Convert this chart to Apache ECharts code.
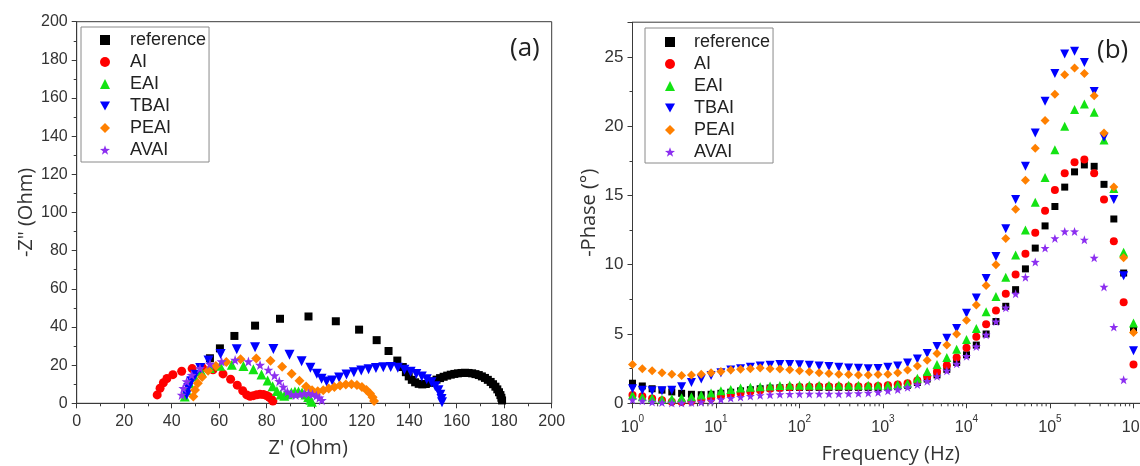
<!DOCTYPE html>
<html>
<head>
<meta charset="utf-8">
<script src="https://cdn.jsdelivr.net/npm/echarts@6/dist/echarts.min.js"></script>
<style>
  html, body { margin: 0; padding: 0; background: #ffffff; }
  #chart { width: 1140px; height: 466px; }
</style>
</head>
<body>
<div id="chart"></div>
<script>
// Sample names, in legend order
const sampleNames = ['reference', 'AI', 'EAI', 'TBAI', 'PEAI', 'AVAI'];

// Nyquist plot (a): [Z' (Ohm), -Z'' (Ohm)]
const nyqReference = [[56.1,23.6],[60.3,28.8],[66.4,35.3],[75.1,40.7],[85.6,44.3],[97.6,45.5],[109.1,43.0],[118.9,38.6],[126.3,33.1],[131.3,27.4],[135.0,22.4],[137.3,19.0],[138.6,16.3],[139.8,14.1],[141.1,12.3],[142.5,11.0],[144.0,10.2],[145.5,9.9],[147.0,10.1],[148.5,10.7],[150.0,11.5],[151.5,12.4],[153.0,13.2],[154.5,13.9],[156.0,14.5],[157.5,15.0],[159.0,15.4],[160.5,15.7],[162.0,15.9],[163.5,16.0],[165.0,15.9],[166.5,15.7],[167.9,15.3],[169.3,14.8],[170.6,14.1],[171.9,13.3],[173.1,12.3],[174.3,11.2],[175.3,10.0],[176.3,8.7],[177.1,7.3],[177.8,5.8],[178.4,4.3],[178.8,2.9],[179.1,1.5]];
const nyqAI = [[33.9,4.4],[35.1,7.9],[36.5,10.8],[38.0,13.0],[40.5,15.0],[44.2,16.8],[48.6,18.2],[53.0,18.6],[57.4,17.6],[61.6,15.4],[64.8,12.6],[67.6,9.5],[69.9,6.6],[71.6,4.4],[73.0,3.7],[74.4,4.0],[75.8,4.5],[77.2,4.7],[78.6,4.6],[79.9,4.1],[81.0,3.3],[81.9,2.3],[82.6,1.2]];
const nyqEAI = [[45.5,3.5],[46.2,7.0],[47.5,10.5],[49.6,14.0],[52.5,16.7],[56.1,18.5],[60.4,19.7],[65.3,20.2],[70.2,19.6],[74.4,17.9],[77.8,15.1],[80.4,11.9],[82.5,9.0],[84.3,6.5],[85.9,4.6],[87.4,4.0],[88.9,4.8],[90.4,5.7],[91.9,6.2],[93.4,6.2],[94.9,5.6],[96.3,4.6],[97.5,3.3],[98.4,1.9],[99.0,0.8]];
const nyqTBAI = [[46.3,4.5],[47.0,8.0],[48.3,11.5],[49.9,15.0],[52.0,18.5],[55.5,22.4],[60.6,25.8],[67.4,28.3],[75.1,29.4],[82.8,28.4],[89.6,25.4],[94.7,22.0],[98.4,18.6],[101.1,15.5],[103.1,12.9],[105.2,11.4],[107.6,11.9],[110.5,13.5],[113.6,15.1],[116.7,16.3],[119.8,17.2],[122.9,17.9],[126.0,18.5],[129.1,18.9],[132.2,19.0],[135.2,18.6],[138.0,17.6],[140.6,16.5],[143.0,15.3],[145.3,14.0],[147.4,12.6],[149.4,11.0],[151.0,9.0],[152.3,6.8],[153.1,4.5],[153.6,2.3],[153.8,0.6]];
const nyqPEAI = [[49.1,3.5],[49.8,7.0],[51.0,10.5],[52.8,13.8],[55.3,17.0],[58.6,19.6],[63.0,21.6],[69.0,23.1],[75.6,23.5],[81.6,22.3],[86.5,19.2],[90.5,15.5],[93.8,11.8],[96.6,8.8],[99.1,6.8],[101.5,6.3],[103.8,6.9],[106.1,7.7],[108.5,8.6],[110.9,9.3],[113.3,9.8],[115.7,10.0],[118.0,9.6],[120.1,8.6],[122.0,7.0],[123.5,5.2],[124.6,3.2],[125.2,1.2]];
const nyqAVAI = [[44.2,4.4],[44.9,7.9],[46.3,11.4],[48.4,14.8],[51.9,18.3],[56.1,20.6],[61.0,21.9],[66.7,22.7],[72.3,21.9],[77.2,20.1],[80.7,17.5],[83.3,14.6],[85.3,11.6],[87.0,8.6],[88.7,6.0],[90.4,4.6],[92.2,4.3],[94.0,4.7],[95.8,5.1],[97.6,5.2],[99.3,4.8],[100.9,4.0],[102.2,2.9],[103.2,1.6]];

// Bode phase plot (b): measurement frequencies (Hz)
const frequencies = [1, 1.311, 1.719, 2.254, 2.955, 3.874, 5.08, 6.66, 8.73, 11.45, 15.01, 19.68, 25.8, 33.8, 44.4, 58.2, 76.3, 100, 131.1, 171.9, 225.4, 295.5, 387.4, 508, 666, 873, 1145, 1501, 1968, 2580, 3382, 4435, 5815, 7624, 10000, 13110, 17190, 22540, 29550, 38740, 50800, 66600, 87300, 114500, 150100, 196800, 258000, 338200, 443500, 581500, 762400, 1000000];
// -Phase (deg) at each frequency
const phaseReference = [1.45,1.25,1.05,0.95,0.82,0.72,0.65,0.62,0.65,0.72,0.8,0.9,0.98,1.05,1.1,1.12,1.14,1.15,1.15,1.15,1.15,1.15,1.15,1.15,1.15,1.15,1.15,1.2,1.3,1.5,1.75,2.05,2.45,2.95,3.5,4.2,5.0,5.9,7.0,8.2,9.7,11.2,12.8,14.2,15.6,16.7,17.2,17.1,15.8,13.3,9.4,5.3];
const phaseAI = [0.6,0.5,0.35,0.22,0.12,0.1,0.15,0.25,0.35,0.5,0.62,0.75,0.85,0.95,1.05,1.1,1.15,1.18,1.2,1.22,1.22,1.22,1.22,1.22,1.23,1.25,1.3,1.35,1.45,1.65,1.95,2.3,2.75,3.3,4.0,4.8,5.7,6.7,7.9,9.3,10.8,12.3,13.9,15.4,16.6,17.4,17.6,16.6,14.7,11.7,7.3,2.8];
const phaseEAI = [0.6,0.48,0.38,0.3,0.33,0.4,0.48,0.6,0.75,0.9,1.0,1.1,1.15,1.2,1.25,1.28,1.3,1.3,1.3,1.3,1.3,1.3,1.3,1.3,1.3,1.3,1.3,1.35,1.45,1.8,2.3,2.8,3.3,3.9,4.6,5.4,6.6,7.7,9.1,10.7,12.5,14.5,16.3,18.3,20.0,21.2,21.6,21.0,19.0,15.5,10.9,5.8];
const phaseTBAI = [1.05,0.95,0.9,0.9,0.95,1.2,1.5,1.75,2.0,2.2,2.4,2.5,2.6,2.7,2.75,2.8,2.8,2.78,2.75,2.7,2.65,2.6,2.55,2.53,2.5,2.52,2.6,2.7,2.9,3.2,3.6,4.1,4.7,5.4,6.5,7.6,9.0,10.6,12.6,14.7,17.1,19.5,21.8,23.8,25.2,25.4,24.6,22.5,19.2,14.7,9.2,3.8];
const phasePEAI = [2.8,2.5,2.35,2.2,2.1,2.0,2.05,2.1,2.2,2.3,2.4,2.45,2.5,2.55,2.5,2.48,2.42,2.35,2.28,2.2,2.15,2.1,2.08,2.05,2.05,2.08,2.1,2.2,2.4,2.7,3.1,3.6,4.2,5.0,6.0,7.1,8.5,10.0,11.9,14.0,16.1,18.4,20.4,22.3,23.7,24.2,23.8,22.2,19.5,15.6,10.5,5.1];
const phaseAVAI = [0.25,0.18,0.1,0.05,0.03,0.03,0.05,0.1,0.18,0.28,0.38,0.45,0.52,0.58,0.62,0.65,0.67,0.68,0.68,0.68,0.68,0.68,0.7,0.72,0.75,0.8,0.9,1.0,1.15,1.35,1.6,1.95,2.35,2.85,3.4,4.1,4.95,5.9,6.9,7.9,9.1,10.2,11.2,11.9,12.4,12.4,11.8,10.5,8.4,5.5,1.7,null];

// Tick labels
const zTickLabels = ['0','20','40','60','80','100','120','140','160','180','200'];
const phaseTickLabels = ['0','5','10','15','20','25'];
const decadeExponents = [0, 1, 2, 3, 4, 5, 6];

// Marker appearance per sample
const markerColors = ['#000000', '#ff0000', '#13e313', '#0000ff', '#ff8000', '#8c2ff0'];
const starPath = 'path://M0,-10L2.35,-3.24L9.51,-3.09L3.8,1.24L5.88,8.09L0,4L-5.88,8.09L-3.8,1.24L-9.51,-3.09L-2.35,-3.24Z';
const downTrianglePath = 'path://M0,0L10,0L5,9Z';
const markerSymbols = ['rect', 'circle', 'triangle', downTrianglePath, 'diamond', starPath];
const markerSizes = [8, 9, 10, 10, 10, 10];

const nyquistSets = [nyqReference, nyqAI, nyqEAI, nyqTBAI, nyqPEAI, nyqAVAI];
const phaseSets = [phaseReference, phaseAI, phaseEAI, phaseTBAI, phasePEAI, phaseAVAI];

const tickFont = 'Liberation Sans, Arial, sans-serif';
const titleFont = 'Open Sans, Liberation Sans, sans-serif';
const axisColor = '#3a3a3a';

// minor tick positions for the log frequency axis (2..9 within each decade)
const logMinorTicks = [];
decadeExponents.forEach(function (e) {
  for (let k = 2; k <= 9; k++) logMinorTicks.push([k * Math.pow(10, e), 0]);
});

const chart = echarts.init(document.getElementById('chart'), null, { renderer: 'canvas' });

function baseAxisStyle() {
  return {
    axisLine: { show: true, lineStyle: { color: axisColor, width: 1 } },
    axisTick: { show: true, inside: false, length: 5, lineStyle: { color: axisColor } },
    minorTick: { show: true, splitNumber: 2, length: 3, lineStyle: { color: axisColor } },
    splitLine: { show: false },
    minorSplitLine: { show: false }
  };
}

const series = [];
sampleNames.forEach(function (name, k) {
  series.push({
    name: name,
    type: 'scatter',
    xAxisIndex: 0,
    yAxisIndex: 0,
    data: nyquistSets[k],
    symbol: markerSymbols[k],
    symbolSize: markerSizes[k],
    itemStyle: { color: markerColors[k], opacity: 1 },
    emphasis: { disabled: true }
  });
});
sampleNames.forEach(function (name, k) {
  const pts = [];
  phaseSets[k].forEach(function (v, i) {
    if (v !== null) pts.push([frequencies[i], v]);
  });
  series.push({
    name: name,
    type: 'scatter',
    xAxisIndex: 1,
    yAxisIndex: 1,
    data: pts,
    symbol: markerSymbols[k],
    symbolSize: markerSizes[k] - 1,
    itemStyle: { color: markerColors[k], opacity: 1 },
    emphasis: { disabled: true }
  });
});
// minor ticks of the logarithmic frequency axis
series.push({
  type: 'custom',
  xAxisIndex: 1,
  yAxisIndex: 1,
  silent: true,
  clip: false,
  data: logMinorTicks,
  renderItem: function (params, api) {
    const p = api.coord([api.value(0), 0]);
    return {
      type: 'line',
      shape: { x1: p[0], y1: p[1], x2: p[0], y2: p[1] + 3 },
      style: { stroke: axisColor, lineWidth: 1 }
    };
  }
});

const legendCommon = {
  data: sampleNames,
  orient: 'vertical',
  itemWidth: 10,
  itemHeight: 10,
  itemGap: 4,
  borderColor: '#8a8a8a',
  borderWidth: 1,
  backgroundColor: '#ffffff',
  selectedMode: false
};

const titleStyle = { fontFamily: titleFont, fontSize: 20, color: '#333' };

const option = {
  animation: false,
  backgroundColor: '#ffffff',
  grid: [
    { left: 76.7, top: 21.7, right: 588.3, bottom: 62.7, outerBoundsMode: 'none', containLabel: false, show: true, borderColor: axisColor, borderWidth: 1, backgroundColor: 'transparent' },
    { left: 632.5, top: 22.2, right: -3, bottom: 62.7, outerBoundsMode: 'none', containLabel: false, show: true, borderColor: axisColor, borderWidth: 1, backgroundColor: 'transparent' }
  ],
  xAxis: [
    Object.assign(baseAxisStyle(), {
      type: 'value', gridIndex: 0, min: 0, max: 200, interval: 20,
      name: "Z' (Ohm)", nameLocation: 'middle', nameGap: 35,
      nameTextStyle: Object.assign({}, titleStyle, { padding: [0, 12, 0, 0] }),
      axisLabel: {
        margin: 10, fontFamily: tickFont, fontSize: 16, color: '#333',
        formatter: function (v) { return zTickLabels[Math.round(v / 20)] || ''; }
      }
    }),
    Object.assign(baseAxisStyle(), {
      type: 'log', logBase: 10, gridIndex: 1, min: 1, max: 1300000,
      name: 'Frequency (Hz)', nameLocation: 'middle', nameGap: 41,
      nameTextStyle: Object.assign({}, titleStyle, { padding: [0, 0, 0, 6] }),
      minorTick: { show: false },
      axisLabel: {
        margin: 11, fontFamily: tickFont, fontSize: 16, color: '#333',
        showMaxLabel: false,
        formatter: function (v) {
          const n = Math.log10(v);
          const r = Math.round(n);
          if (Math.abs(n - r) > 1e-6 || decadeExponents.indexOf(r) < 0) return '';
          return '{b|10}{s|' + r + '}';
        },
        rich: {
          b: { fontFamily: tickFont, fontSize: 16, color: '#333', verticalAlign: 'bottom' },
          s: { fontFamily: tickFont, fontSize: 10, color: '#333', verticalAlign: 'bottom', padding: [0, 0, 11, 0] }
        }
      }
    })
  ],
  yAxis: [
    Object.assign(baseAxisStyle(), {
      type: 'value', gridIndex: 0, min: 0, max: 200, interval: 20,
      name: '-Z" (Ohm)', nameLocation: 'middle', nameGap: 40, nameRotate: 90,
      nameTextStyle: titleStyle,
      axisLabel: {
        margin: 9, fontFamily: tickFont, fontSize: 16, color: '#333',
        formatter: function (v) { return zTickLabels[Math.round(v / 20)] || ''; }
      }
    }),
    Object.assign(baseAxisStyle(), {
      type: 'value', gridIndex: 1, min: 0, max: 27.5, interval: 5,
      name: '-Phase (°)', nameLocation: 'middle', nameGap: 33, nameRotate: 90,
      nameTextStyle: titleStyle,
      axisLabel: {
        margin: 9, fontFamily: tickFont, fontSize: 17, color: '#333',
        showMaxLabel: false,
        formatter: function (v) {
          const r = Math.round(v / 5);
          return (Math.abs(v - r * 5) < 1e-6) ? (phaseTickLabels[r] || '') : '';
        }
      }
    })
  ],
  legend: [
    Object.assign({}, legendCommon, {
      left: 81, top: 27, padding: [4, 3, 3, 19],
      textStyle: { fontFamily: tickFont, fontSize: 18, color: '#222', lineHeight: 18, padding: [0, 0, 0, 15] }
    }),
    Object.assign({}, legendCommon, {
      left: 645, top: 28, padding: [5, 3, 2, 20],
      textStyle: { fontFamily: tickFont, fontSize: 18, color: '#222', lineHeight: 18, padding: [0, 0, 0, 14] }
    })
  ],
  graphic: [
    { type: 'text', left: 510, top: 36, style: { text: '(a)', font: '26px ' + titleFont, fill: '#222' } },
    { type: 'text', left: 1097, top: 38, style: { text: '(b)', font: '26px ' + titleFont, fill: '#222' } }
  ],
  series: series
};

chart.setOption(option);
</script>
</body>
</html>
